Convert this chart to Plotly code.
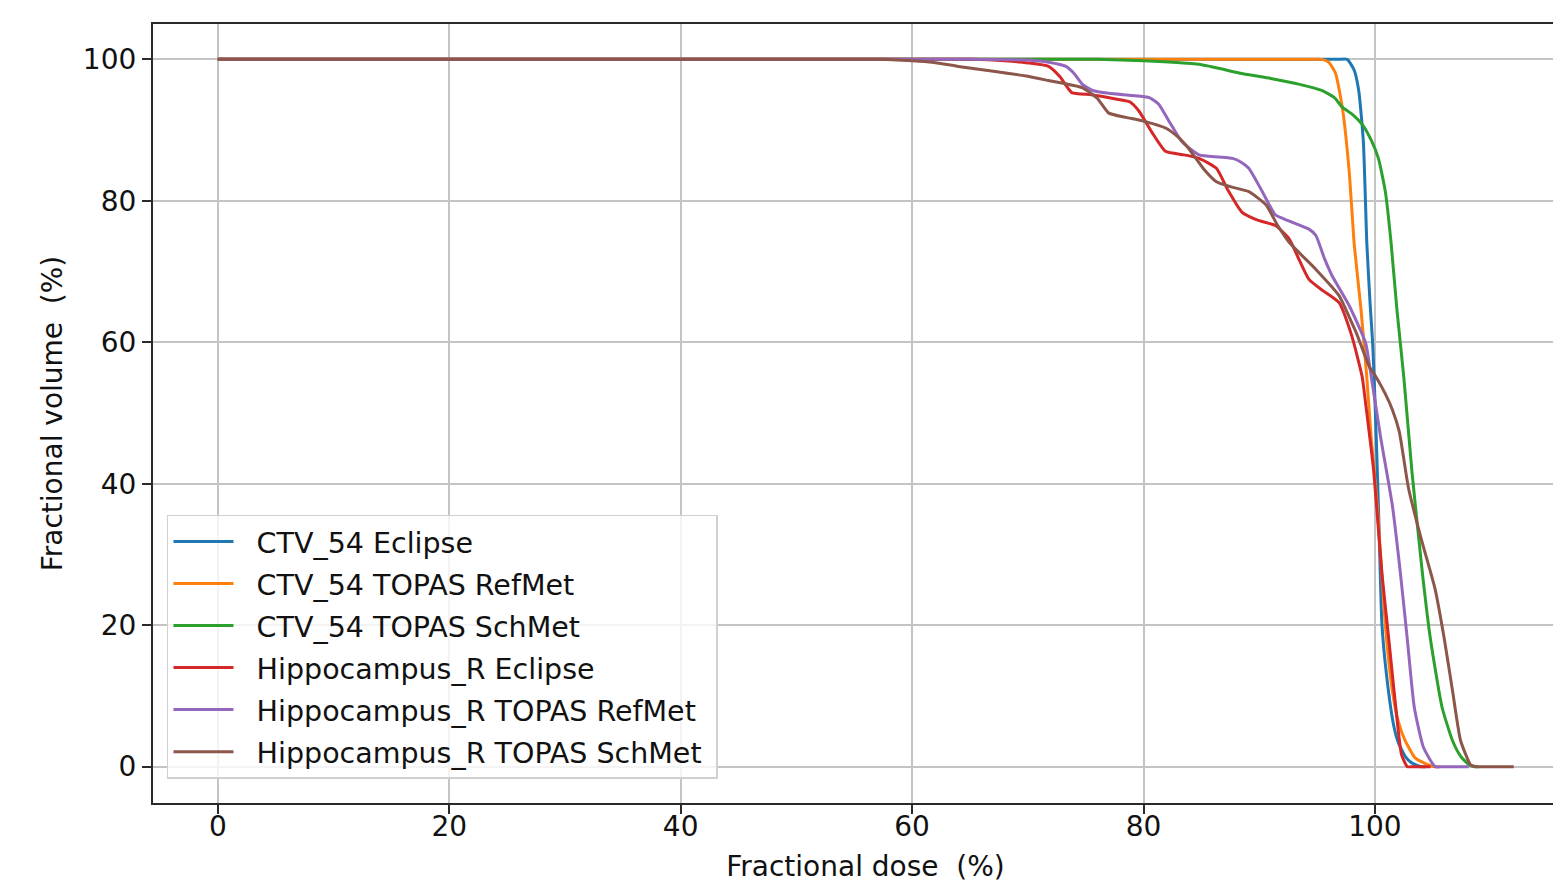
import plotly.graph_objects as go

names = ["CTV_54 Eclipse", "CTV_54 TOPAS RefMet", "CTV_54 TOPAS SchMet",
         "Hippocampus_R Eclipse", "Hippocampus_R TOPAS RefMet", "Hippocampus_R TOPAS SchMet"]
colors = ["#1f77b4", "#ff7f0e", "#2ca02c", "#d62728", "#9467bd", "#8c564b"]

ctv_ecl_x = [0, 50, 96.8, 97.6, 98.2, 98.6, 99.0, 99.3, 99.6, 99.8, 100.0, 100.3, 100.6, 101.0, 101.6, 102.0,
             102.6, 103.2, 104.0, 104.4]
ctv_ecl_y = [100, 100, 100, 100, 98.5, 95.6, 88.4, 74, 65, 60, 52, 37, 20.3, 13, 6, 3.5,
             1.5, 0.5, 0, 0]

ctv_ref_x = [0, 50, 94.6, 95.4, 96.0, 96.6, 97.2, 97.8, 98.2, 98.8, 99.3, 99.7, 100.2, 100.9, 101.5, 102.0,
             102.6, 103.5, 104.7, 105.2, 105.6]
ctv_ref_y = [100, 100, 100, 100, 99.6, 98, 93, 83.7, 74, 64.6, 55, 46, 37, 20, 10.8, 6.5,
             3.7, 1.2, 0.2, 0, 0]

ctv_sch_x = [0, 40, 75, 76, 80, 84.8, 88.5, 91, 93.4, 95.4, 96.5, 97.2, 98.0, 98.9, 99.7, 100.3, 100.9,
             101.4, 101.9, 102.5, 103.2, 104.1, 104.8, 105.8, 106.7, 107.4, 108.1, 108.6, 109.0]
ctv_sch_y = [100, 100, 100, 100, 99.8, 99.3, 98, 97.3, 96.5, 95.6, 94.6, 93.2, 92.3, 90.8, 88.5, 86, 81.3,
             74, 64.6, 55, 41.7, 27.4, 18, 8.4, 3.7, 1.5, 0.3, 0, 0]

hip_ecl_x = [0, 40, 64, 65, 68, 70, 71.8, 72.8, 73.8, 75.5, 77.6, 78.8, 79.6, 80.8, 81.9, 83.5, 84.8, 86.3,
             87.3, 88.5, 89.8, 91.4, 92.6, 93.5, 94.3, 95.5, 96.9, 98.0, 98.9, 99.2, 99.9, 100.6, 101.2,
             101.8, 102.3, 102.8, 103.3, 104.8]
hip_ecl_y = [100, 100, 100, 100, 99.8, 99.5, 99, 97.5, 95.3, 95, 94.4, 94, 92.7, 89.5, 87, 86.5, 86, 84.6,
             81.5, 78.4, 77.3, 76.5, 74.6, 71.5, 68.9, 67.3, 65.6, 60.9, 55.1, 51.3, 41.7, 27.4, 18,
             8.4, 1.7, 0, 0, 0]

hip_ref_x = [0, 40, 64, 65, 70, 71.8, 73.3, 74.0, 74.7, 75.6, 77, 79, 80.5, 81.3, 82.3, 83.3, 84.8, 86.5,
             87.7, 88.4, 89.1, 90.2, 91.4, 92.5, 94.3, 94.9, 95.6, 96.3, 97.8, 99.2, 99.6, 100.5, 101.5,
             102.2, 102.8, 103.4, 104.2, 105.2, 105.8, 108.1]
hip_ref_y = [100, 100, 100, 100, 99.9, 99.6, 99, 98, 96.5, 95.6, 95.2, 94.9, 94.6, 93.7, 91, 88.4, 86.5, 86.2,
             86, 85.5, 84.6, 81.5, 78, 77.2, 76, 75.1, 72, 69.4, 65.1, 59.9, 56, 46.5, 37,
             27.4, 18, 8.4, 2.7, 0, 0, 0]

hip_sch_x = [0, 30, 56.5, 57.4, 60, 61.7, 64, 67.5, 70, 71.8, 74.7, 76, 77.0, 78.5, 79.9, 81.9, 83.0, 83.9,
             85.2, 86.3, 87.5, 89.1, 90.6, 91.6, 92.6, 94.9, 96.9, 97.8, 98.4, 99.5, 100.1, 100.9, 101.5,
             102.1, 102.9, 104.0, 105.2, 106.0, 106.7, 107.4, 108.3, 108.8, 109.4, 112]
hip_sch_y = [100, 100, 100, 100, 99.8, 99.6, 99.0, 98.2, 97.6, 97, 96, 94.5, 92.4, 91.8, 91.3, 90.3, 89, 87.4,
             84.5, 82.7, 82, 81.3, 79.4, 76.5, 74.1, 70.3, 66.6, 63.5, 61.3, 56.6, 55.1, 52.7, 50.5,
             47.4, 39.4, 32.2, 25.1, 18, 10.8, 3.7, 0.2, 0, 0, 0]

series = [(ctv_ecl_x, ctv_ecl_y), (ctv_ref_x, ctv_ref_y), (ctv_sch_x, ctv_sch_y),
          (hip_ecl_x, hip_ecl_y), (hip_ref_x, hip_ref_y), (hip_sch_x, hip_sch_y)]

x_ticks = [0, 20, 40, 60, 80, 100]
y_ticks = [0, 20, 40, 60, 80, 100]

FONT = "DejaVu Sans"
fig = go.Figure()
for i, ((xs, ys), name, col) in enumerate(zip(series, names, colors)):
    fig.add_trace(go.Scatter(x=xs, y=ys, mode="lines", name="\u00a0\u00a0" + name + "\u00a0",
                             legendgroup=f"g{i}",
                             line=dict(color=col, width=3, shape="spline", smoothing=0.5)))

plot_w = 1572 - 145
fig.update_layout(
    width=1572, height=875,
    margin=dict(l=145, r=0, t=16, b=80),
    paper_bgcolor="white", plot_bgcolor="white",
    font=dict(family=FONT, size=28, color="#111111"),
    showlegend=True,
    legend=dict(x=14 / plot_w, y=0.031, xanchor="left", yanchor="bottom",
                bgcolor="rgba(255,255,255,0.8)", bordercolor="#d0d0d0", borderwidth=1.5,
                font=dict(family=FONT, size=28.5, color="#111111"),
                tracegroupgap=2, itemwidth=60),
    xaxis=dict(range=[-5.6, 117.55], tickvals=x_ticks, showgrid=True, gridcolor="#c4c4c4", gridwidth=2,
               zeroline=False, showline=True, linecolor="#2a2a2a", linewidth=2.2, mirror=True,
               ticks="outside", ticklen=9, tickwidth=2, tickcolor="#2a2a2a",
               ticklabelstandoff=-12,
               tickfont=dict(family=FONT, size=28),
               title=dict(text="Fractional dose\u00a0 (%)", standoff=19, font=dict(family=FONT, size=28))),
    yaxis=dict(range=[-5.14, 105.0], tickvals=y_ticks, showgrid=True, gridcolor="#c4c4c4", gridwidth=2,
               zeroline=False, showline=True, linecolor="#2a2a2a", linewidth=2.2, mirror=True,
               ticks="outside", ticklen=9, tickwidth=2, tickcolor="#2a2a2a",
               tickfont=dict(family=FONT, size=28),
               title=dict(text="Fractional volume\u00a0 (%)", standoff=12, font=dict(family=FONT, size=28))),
)

fig.write_html("out.html")
